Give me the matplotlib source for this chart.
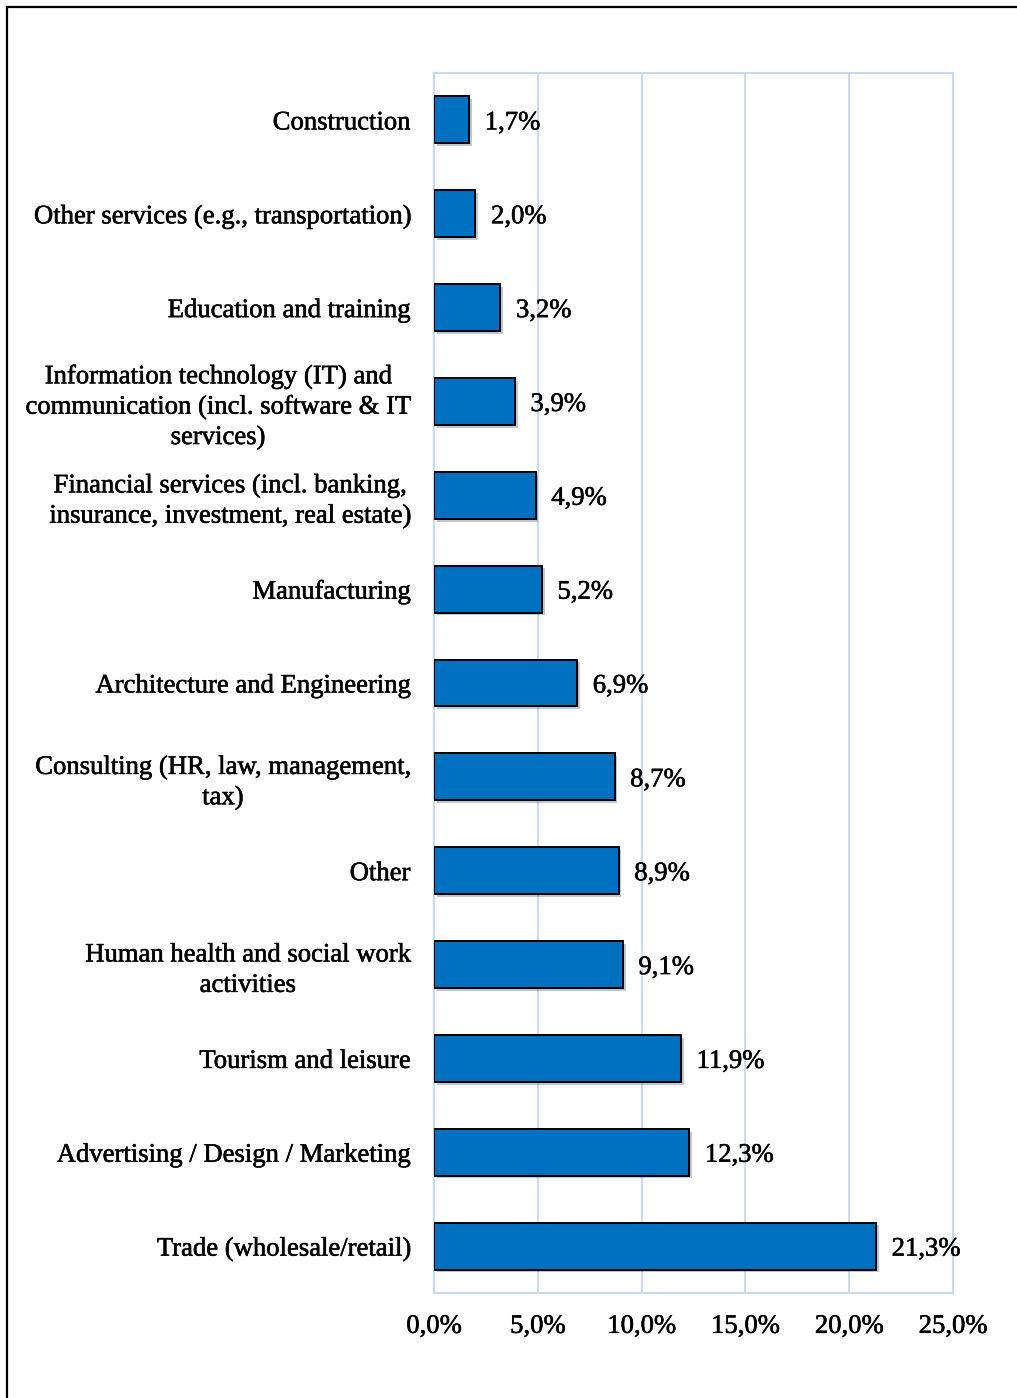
import matplotlib

matplotlib.use("Agg")
import matplotlib.pyplot as plt
import matplotlib.patheffects as pe
from matplotlib.lines import Line2D
from matplotlib.ticker import FuncFormatter

# Sectors, listed top to bottom
sectors = [
    "Construction",
    "Other services (e.g., transportation)",
    "Education and training",
    "Information technology (IT) and\ncommunication (incl. software & IT\nservices)",
    "Financial services (incl. banking,\ninsurance, investment, real estate)",
    "Manufacturing",
    "Architecture and Engineering",
    "Consulting (HR, law, management,\ntax)",
    "Other",
    "Human health and social work\nactivities",
    "Tourism and leisure",
    "Advertising / Design / Marketing",
    "Trade (wholesale/retail)",
]
shares = [1.7, 2.0, 3.2, 3.9, 4.9, 5.2, 6.9, 8.7, 8.9, 9.1, 11.9, 12.3, 21.3]
x_ticks = [0, 5, 10, 15, 20, 25]

BAR_COLOR = "#0070C0"
GRID_COLOR = "#C6D9F0"
FONT = "Liberation Serif"
FS = 19.2
# slightly heavier strokes for the serif text
TEXT_FX = [pe.withStroke(linewidth=0.4, foreground="black")]


def pct(v, _pos=None):
    return f"{v:.1f}%".replace(".", ",")


fig = plt.figure(figsize=(10.17, 13.98), dpi=100)
ax = fig.add_axes([0.4267, 0.0751, 0.5103, 0.8727])

ypos = list(range(len(sectors)))
bars = ax.barh(ypos, shares, height=0.5, color=BAR_COLOR, edgecolor="black",
               linewidth=1.4, zorder=3)
for b in bars:
    b.set_path_effects([pe.SimplePatchShadow(offset=(2, -2), alpha=0.25),
                        pe.Normal()])

for y, v in zip(ypos, shares):
    ax.text(v + 0.75, y, pct(v), va="center_baseline", ha="left",
            fontsize=FS, family=FONT, zorder=4, path_effects=TEXT_FX)

ax.set_ylim(len(sectors) - 0.5, -0.5)
ax.set_xlim(0, 25)
ax.set_xticks(x_ticks)
ax.xaxis.set_major_formatter(FuncFormatter(pct))
ax.set_yticks(ypos)
ax.set_yticklabels(sectors, multialignment="center", linespacing=1.28)

for lab in ax.get_xticklabels() + ax.get_yticklabels():
    lab.set_family(FONT)
    lab.set_fontsize(FS)
    lab.set_path_effects(TEXT_FX)

ax.tick_params(axis="both", length=0)
ax.tick_params(axis="y", pad=17)
ax.tick_params(axis="x", pad=15)
ax.grid(axis="x", color=GRID_COLOR, linewidth=1.3, zorder=0)
for sp in ax.spines.values():
    sp.set_color(GRID_COLOR)
    sp.set_linewidth(1.5)

# outer frame (top and left edges)
fig.add_artist(Line2D([0.0069, 1.0], [0.995, 0.995], color="black", linewidth=1.6))
fig.add_artist(Line2D([0.0069, 0.0069], [0.0, 0.995], color="black", linewidth=1.6))

fig.savefig("out.png", dpi=100)
